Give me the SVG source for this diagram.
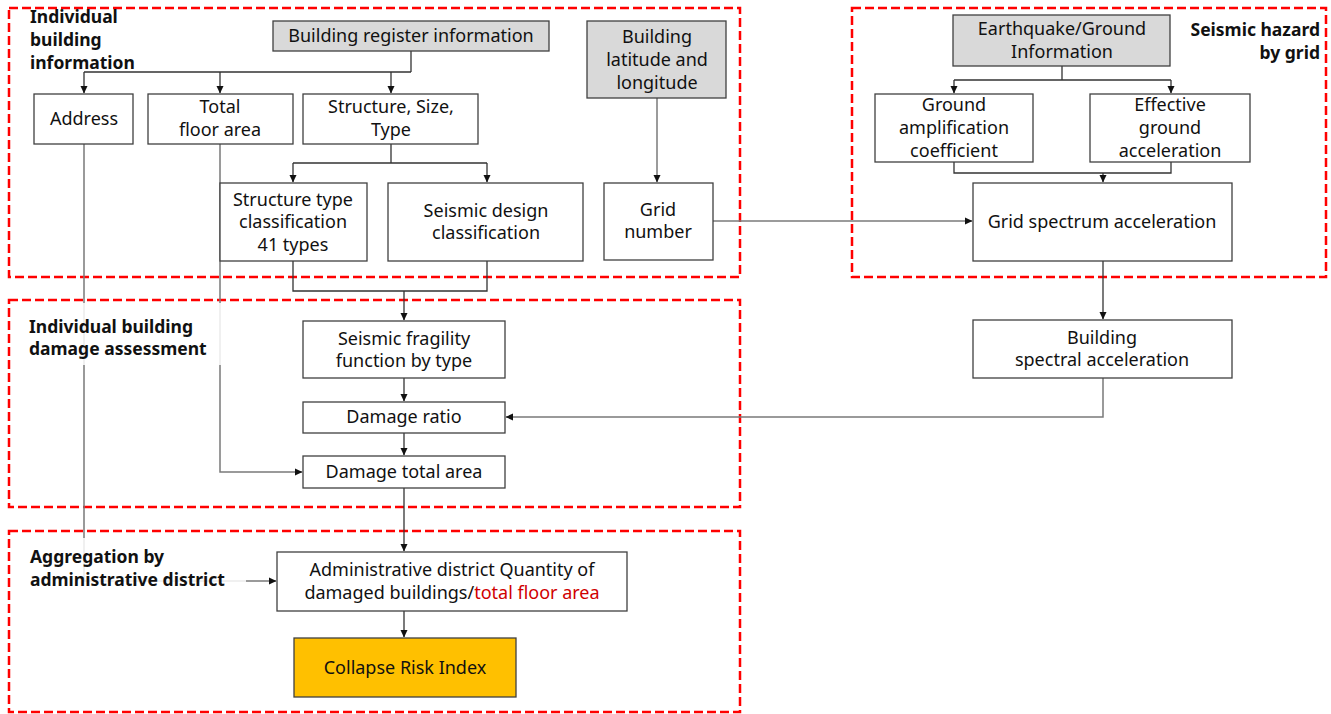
<svg xmlns="http://www.w3.org/2000/svg" width="1331" height="714" viewBox="0 0 1331 714">
<defs>
<marker id="ah" markerWidth="8" markerHeight="8" refX="7" refY="4" orient="auto" markerUnits="userSpaceOnUse">
<path d="M0,0.5 L7.5,4 L0,7.5 Z" fill="#111"/>
</marker>
<style>
.frame{fill:none;stroke:#ff0000;stroke-width:2.5;stroke-dasharray:9,4}
.box{fill:#fff;stroke:#404040;stroke-width:1.3}
.gray{fill:#d9d9d9}
.gold{fill:#ffc000}
.t{font-family:"Noto Sans","Open Sans","Liberation Sans",sans-serif;font-size:18px;fill:#111;text-anchor:middle}
.lbl{font-family:"Noto Sans","Open Sans","Liberation Sans",sans-serif;font-size:17.5px;font-weight:bold;fill:#111}
.c{fill:none;stroke:#333;stroke-width:1.3}
.cg{fill:none;stroke:#7a7a7a;stroke-width:1.5}
</style>
</defs>
<rect width="1331" height="714" fill="#fff"/>

<g id="frames">
<rect class="frame" x="9" y="8" width="731" height="269"/>
<rect class="frame" x="852" y="8" width="474" height="269"/>
<rect class="frame" x="9" y="300" width="731" height="207"/>
<rect class="frame" x="9" y="531" width="731" height="181"/>
</g>

<g id="connectors">
<path class="c" d="M411,51 V72 M84,72 H411"/>
<path class="c" d="M84,72 V93" marker-end="url(#ah)"/>
<path class="c" d="M220,72 V93" marker-end="url(#ah)"/>
<path class="c" d="M391,72 V93" marker-end="url(#ah)"/>
<path class="c" d="M391,144 V163 M293,163 H487"/>
<path class="c" d="M293,163 V182" marker-end="url(#ah)"/>
<path class="c" d="M487,163 V182" marker-end="url(#ah)"/>
<path class="cg" d="M657,98 V182" marker-end="url(#ah)"/>
<path class="cg" d="M713,221 H972" marker-end="url(#ah)"/>
<path class="c" d="M1062,66 V80 M954,80 H1171"/>
<path class="c" d="M954,80 V93" marker-end="url(#ah)"/>
<path class="c" d="M1171,80 V93" marker-end="url(#ah)"/>
<path class="c" d="M954,162 V173 H1171 V162"/>
<path class="c" d="M1103,173 V182" marker-end="url(#ah)"/>
<path class="c" d="M1103,261 V319" marker-end="url(#ah)"/>
<path class="cg" d="M1103,378 V417 H506" marker-end="url(#ah)"/>
<path class="c" d="M293,261 V291 H487 V261"/>
<path class="c" d="M404,291 V320" marker-end="url(#ah)"/>
<path class="c" d="M404,378 V401" marker-end="url(#ah)"/>
<path class="c" d="M404,433 V455" marker-end="url(#ah)"/>
<path class="cg" d="M220,144 V472 H302" marker-end="url(#ah)"/>
<path class="c" d="M404,488 V551" marker-end="url(#ah)"/>
<path class="cg" d="M84,144 V581 H276" marker-end="url(#ah)"/>
<path class="c" d="M404,611 V637" marker-end="url(#ah)"/>
</g>

<g id="labels">
<text class="lbl" x="30" y="23">Individual</text>
<text class="lbl" x="30" y="46">building</text>
<text class="lbl" x="30" y="69">information</text>
<text class="lbl" x="1320" y="36" text-anchor="end">Seismic hazard</text>
<text class="lbl" x="1320" y="59" text-anchor="end">by grid</text>
<rect x="26" y="303" width="198" height="62" fill="#fff" opacity="0.85"/>
<text class="lbl" x="29" y="333">Individual building</text>
<text class="lbl" x="29" y="355">damage assessment</text>
<rect x="26" y="538" width="220" height="52" fill="#fff" opacity="0.85"/>
<text class="lbl" x="30" y="563">Aggregation by</text>
<text class="lbl" x="30" y="586">administrative district</text>
</g>

<g id="n-register"><rect class="box gray" x="273" y="21" width="276" height="30"/><text class="t" x="411" y="42">Building register information</text></g>
<g id="n-latlong"><rect class="box gray" x="587" y="21" width="139" height="77"/><text class="t" x="657" y="43">Building</text><text class="t" x="657" y="66">latitude and</text><text class="t" x="657" y="89">longitude</text></g>
<g id="n-address"><rect class="box" x="34" y="94" width="99" height="50"/><text class="t" x="84" y="125">Address</text></g>
<g id="n-total"><rect class="box" x="148" y="94" width="145" height="50"/><text class="t" x="220" y="113">Total</text><text class="t" x="220" y="136">floor area</text></g>
<g id="n-structure"><rect class="box" x="303" y="94" width="175" height="50"/><text class="t" x="391" y="113">Structure, Size,</text><text class="t" x="391" y="136">Type</text></g>
<g id="n-stype"><rect class="box" x="220" y="183" width="147" height="78"/><text class="t" x="293" y="206">Structure type</text><text class="t" x="293" y="228">classification</text><text class="t" x="293" y="251">41 types</text></g>
<g id="n-sdesign"><rect class="box" x="388" y="183" width="195" height="78"/><text class="t" x="486" y="217">Seismic design</text><text class="t" x="486" y="239">classification</text></g>
<g id="n-grid"><rect class="box" x="604" y="183" width="109" height="77"/><text class="t" x="658" y="216">Grid</text><text class="t" x="658" y="238">number</text></g>
<g id="n-eq"><rect class="box gray" x="953" y="15" width="217" height="51"/><text class="t" x="1062" y="35">Earthquake/Ground</text><text class="t" x="1062" y="58">Information</text></g>
<g id="n-gamp"><rect class="box" x="875" y="94" width="158" height="68"/><text class="t" x="954" y="111">Ground</text><text class="t" x="954" y="134">amplification</text><text class="t" x="954" y="157">coefficient</text></g>
<g id="n-ega"><rect class="box" x="1090" y="94" width="160" height="68"/><text class="t" x="1170" y="111">Effective</text><text class="t" x="1170" y="134">ground</text><text class="t" x="1170" y="157">acceleration</text></g>
<g id="n-gsa"><rect class="box" x="973" y="183" width="259" height="78"/><text class="t" x="1102" y="228">Grid spectrum acceleration</text></g>
<g id="n-bsa"><rect class="box" x="973" y="320" width="259" height="58"/><text class="t" x="1102" y="344">Building</text><text class="t" x="1102" y="366">spectral acceleration</text></g>
<g id="n-frag"><rect class="box" x="303" y="321" width="202" height="57"/><text class="t" x="404" y="345">Seismic fragility</text><text class="t" x="404" y="367">function by type</text></g>
<g id="n-ratio"><rect class="box" x="303" y="402" width="202" height="31"/><text class="t" x="404" y="423">Damage ratio</text></g>
<g id="n-dta"><rect class="box" x="303" y="456" width="202" height="32"/><text class="t" x="404" y="478">Damage total area</text></g>
<g id="n-admin"><rect class="box" x="277" y="552" width="350" height="59"/><text class="t" x="452" y="576">Administrative district Quantity of</text><text class="t" x="452" y="599">damaged buildings/<tspan fill="#d00000">total floor area</tspan></text></g>
<g id="n-cri"><rect class="box gold" x="294" y="638" width="222" height="59"/><text class="t" x="405" y="674">Collapse Risk Index</text></g>
</svg>
